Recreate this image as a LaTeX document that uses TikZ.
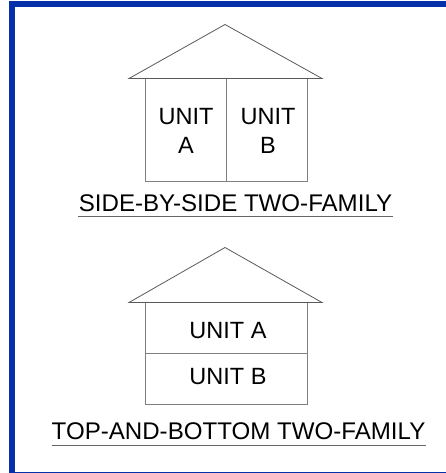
\documentclass[tikz,border=0pt]{standalone}
\usepackage{fontspec}
\setmainfont{Liberation Sans}
\definecolor{frameblue}{RGB}{6,48,170}
\tikzset{
  wall/.style={draw=black!50, line width=0.9pt},
  roof/.style={draw=black!65, line width=0.8pt},
  unitlabel/.style={font=\fontsize{23.5}{29}\selectfont, text=black, align=center, inner sep=0pt},
  caption/.style={font=\fontsize{24.1}{29}\selectfont, text=black, inner sep=0pt},
  rule/.style={draw=black!60, line width=0.9pt}
}
\begin{document}
\begin{tikzpicture}[x=1pt, y=-1pt]
    \useasboundingbox (0,0) rectangle (446,473);

    % Frame
    \fill[frameblue] (9,1.5) rectangle (446,7.5);
    \fill[frameblue] (9,1.5) rectangle (15,472);
    \fill[frameblue] (9,471.5) rectangle (446,472.5);

    % Side-by-side house
    \draw[wall] (145,78.5) rectangle (307,181);
    \draw[wall] (226,78.5) -- (226,181);
    \draw[roof] (129,78.5) -- (225,24.5) -- (322,78.5) -- cycle;
    \node[unitlabel] (unitA) at (186,131) {UNIT\\A};
    \node[unitlabel] (unitB) at (268,131) {UNIT\\B};

    % Caption
    \node[caption] (sideCaption) at (235.5,203.5) {SIDE-BY-SIDE TWO-FAMILY};
    \draw[rule] (78,216) -- (393,216);

    % Top-and-bottom house
    \draw[wall] (145,302.5) rectangle (307,404.5);
    \draw[wall] (145,353) -- (307,353);
    \draw[roof] (129,302.5) -- (225,247.5) -- (322,302.5) -- cycle;
    \node[unitlabel] (unitTop) at (228,330.5) {UNIT A};
    \node[unitlabel] (unitBottom) at (228,376.5) {UNIT B};

    % Caption
    \node[caption] (stackCaption) at (238.5,431.5) {TOP-AND-BOTTOM TWO-FAMILY};
    \draw[rule] (52,445) -- (426,445);
\end{tikzpicture}
\end{document}
